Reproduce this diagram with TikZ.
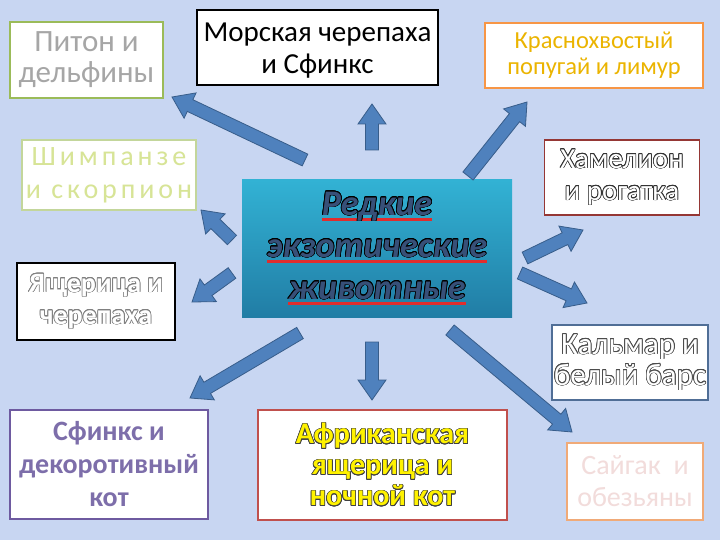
\documentclass[tikz,border=0pt]{standalone}
\usepackage{fontspec}
\setmainfont{Carlito}
\usepackage{contour}
\contourlength{0.7pt}
\usetikzlibrary{calc}
\definecolor{bg}{RGB}{200,214,242}
\definecolor{pgreen}{RGB}{155,187,89}
\definecolor{pgray}{RGB}{166,166,166}
\definecolor{porange}{RGB}{247,150,70}
\definecolor{pgold}{RGB}{235,180,0}
\definecolor{lgreen}{RGB}{195,214,155}
\definecolor{lyellow}{RGB}{215,228,150}
\definecolor{dred}{RGB}{149,55,53}
\definecolor{ctop}{RGB}{50,178,212}
\definecolor{cbot}{RGB}{33,125,165}
\definecolor{ctext}{RGB}{55,80,120}
\definecolor{ulred}{RGB}{225,45,45}
\definecolor{bgray}{RGB}{80,110,150}
\definecolor{ppurple}{RGB}{110,90,160}
\definecolor{tpurple}{RGB}{125,110,170}
\definecolor{pred}{RGB}{192,80,77}
\definecolor{lpink}{RGB}{242,220,219}
\definecolor{lorange}{RGB}{240,170,120}
\definecolor{afill}{RGB}{79,129,189}
\definecolor{aline}{RGB}{56,93,138}
\newlength\ulw
\newcommand\redul[1]{\settowidth\ulw{#1}\makebox[0pt][l]{\textcolor{ulred}{\rule[-6pt]{\ulw}{3.5pt}}}#1}
\newcommand\lowr[1]{\raisebox{-3.5pt}[\height][\depth]{#1}}
\newcommand\barrow[1]{%
 \coordinate (#1-b) at ($(#1-h)!20pt!(#1-t)$);
 \filldraw[arrowsty] ($(#1-t)!6.5pt!90:(#1-h)$) -- ($(#1-b)!6.5pt!90:(#1-h)$) -- ($(#1-b)!14pt!90:(#1-h)$) -- (#1-h) -- ($(#1-b)!14pt!-90:(#1-h)$) -- ($(#1-b)!6.5pt!-90:(#1-h)$) -- ($(#1-t)!6.5pt!-90:(#1-h)$) -- cycle;}
\begin{document}
\begin{tikzpicture}[x=1pt,y=-1pt,
  box/.style={draw, fill=white, line width=1.6pt, align=center, inner sep=0pt},
  arrowsty/.style={fill=afill, draw=aline, line width=0.8pt, line join=miter}]
\fill[bg] (0,0) rectangle (720,540);
\useasboundingbox (0,0) rectangle (720,540);

% nodes
\node[box, draw=pgreen, text=pgray, minimum width=153pt, minimum height=76pt,
  font=\fontsize{31}{31}\selectfont] (python) at (86.5,60) {Питон и\\дельфины};
\node[box, draw=black, text=black, minimum width=241pt, minimum height=75pt,
  font=\fontsize{29}{32}\selectfont] (turtle) at (317.5,47.5) {\lowr{Морская черепаха}\\\lowr{и Сфинкс}};
\node[box, draw=porange, text=pgold, minimum width=218pt, minimum height=65pt,
  font=\fontsize{24.5}{26}\selectfont] (parrot) at (594,55.5) {Краснохвостый\\попугай и лимур};
\node[box, draw=lgreen, text=lyellow, minimum width=174pt, minimum height=70pt,
  font=\fontsize{28}{33}\selectfont\addfontfeatures{LetterSpace=14}] (chimp) at (109,175) {Шимпанзе\\и скорпион};
\node[box, draw=dred, minimum width=155pt, minimum height=75pt,
  font=\fontsize{29}{32}\selectfont] (cham) at (622,177.5) {{\color{white}\contour{black!80}{Хамелион}}\\{\color{white}\contour{black!80}{и рогатка}}};
\node[draw=none, top color=ctop, bottom color=cbot, minimum width=270pt, minimum height=137pt,
  align=center, inner sep=0pt, font=\fontsize{36}{42}\bfseries\itshape\selectfont] (center) at (377,248.5)
  {\redul{{\color{ctext}\contour{black}{Редкие}}}\\\redul{{\color{ctext}\contour{black}{экзотические}}}\\\redul{{\color{ctext}\contour{black}{животные}}}};
\node[box, draw=black, minimum width=158pt, minimum height=77pt,
  font=\fontsize{28}{32}\bfseries\selectfont] (lizard) at (96,301.5) {{\color{white}\contour{gray}{Ящерица и}}\\{\color{white}\contour{gray}{черепаха}}};
\node[box, draw=bgray, minimum width=156pt, minimum height=75pt,
  font=\fontsize{31}{31}\selectfont] (squid) at (630,362.5) {{\color{white}\contour{black!70}{Кальмар и}}\\{\color{white}\contour{black!70}{белый барс}}};
\node[box, draw=ppurple, text=tpurple, minimum width=198pt, minimum height=109pt,
  font=\fontsize{28}{33}\bfseries\selectfont] (sphinx) at (109,464.5) {Сфинкс и\\декоротивный\\кот};
\node[box, draw=pred, minimum width=249pt, minimum height=110pt,
  font=\fontsize{30}{31}\bfseries\selectfont] (african) at (382.5,465) {{\color{yellow}\contour{black!75}{Африканская}}\\{\color{yellow}\contour{black!75}{ящерица и}}\\{\color{yellow}\contour{black!75}{ночной кот}}};
\node[box, draw=lorange, text=lpink, minimum width=136pt, minimum height=77pt,
  font=\fontsize{28}{32}\selectfont] (saiga) at (635,481.5) {Сайгак\ \ и\\обезьяны};

% arrows
\coordinate (a1-t) at (305,160); \coordinate (a1-h) at (172,97);
\coordinate (a2-t) at (372,150); \coordinate (a2-h) at (372,104);
\coordinate (a3-t) at (468,176); \coordinate (a3-h) at (527,102);
\coordinate (a4-t) at (525,258); \coordinate (a4-h) at (583,230);
\coordinate (a5-t) at (520,273); \coordinate (a5-h) at (587,303);
\coordinate (a6-t) at (232,240); \coordinate (a6-h) at (201,210);
\coordinate (a7-t) at (232,273); \coordinate (a7-h) at (192,302);
\coordinate (a8-t) at (300,333); \coordinate (a8-h) at (190,398);
\coordinate (a9-t) at (372,342); \coordinate (a9-h) at (372,400);
\coordinate (a10-t) at (450,330); \coordinate (a10-h) at (572,432);
\barrow{a1}\barrow{a2}\barrow{a3}\barrow{a4}\barrow{a5}
\barrow{a6}\barrow{a7}\barrow{a8}\barrow{a9}\barrow{a10}
\end{tikzpicture}
\end{document}
